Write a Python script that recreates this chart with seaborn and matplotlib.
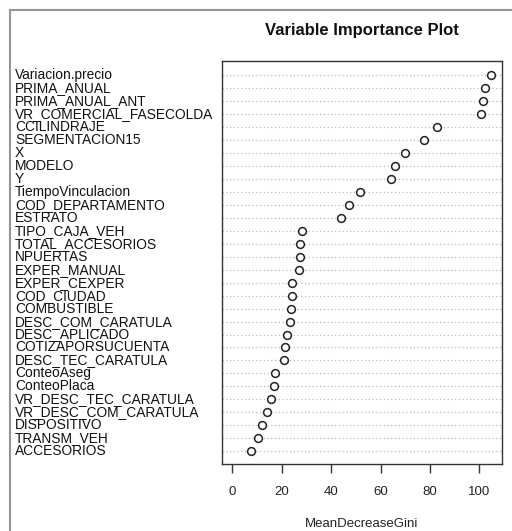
import matplotlib
matplotlib.use("Agg")
import matplotlib.pyplot as plt
import matplotlib.transforms as mtransforms
from matplotlib.patches import Rectangle
import seaborn as sns
import pandas as pd

variables = [
    "Variacion.precio", "PRIMA_ANUAL", "PRIMA_ANUAL_ANT", "VR_COMERCIAL_FASECOLDA",
    "CCILINDRAJE", "SEGMENTACION15", "X", "MODELO", "Y", "TiempoVinculacion",
    "COD_DEPARTAMENTO", "ESTRATO", "TIPO_CAJA_VEH", "TOTAL_ACCESORIOS", "NPUERTAS",
    "EXPER_MANUAL", "EXPER_CEXPER", "COD_CIUDAD", "COMBUSTIBLE", "DESC_COM_CARATULA",
    "DESC_APLICADO", "COTIZAPORSUCUENTA", "DESC_TEC_CARATULA", "ConteoAseg",
    "ConteoPlaca", "VR_DESC_TEC_CARATULA", "VR_DESC_COM_CARATULA", "DISPOSITIVO",
    "TRANSM_VEH", "ACCESORIOS",
]
mean_decrease_gini = [
    104.7, 102.3, 101.5, 100.8, 83.0, 77.7, 70.0, 66.0, 64.4, 51.8,
    47.1, 43.9, 28.1, 27.4, 27.2, 27.0, 24.3, 24.3, 23.9, 23.2,
    22.1, 21.2, 20.9, 17.4, 16.9, 15.8, 13.9, 12.1, 10.5, 7.6,
]
x_ticks = [0, 20, 40, 60, 80, 100]
title = "Variable Importance Plot"
x_label = "MeanDecreaseGini"

df = pd.DataFrame({"variable": variables, "gini": mean_decrease_gini})

sns.set_style("white")
plt.rcParams["font.family"] = ["Liberation Sans", "DejaVu Sans"]

W, H = 512, 531
fig = plt.figure(figsize=(W / 100, H / 100), dpi=100)
ax = fig.add_axes([222 / W, 1 - 464 / H, 280 / W, 403 / H])

sns.stripplot(data=df, x="gini", y="variable", order=variables, jitter=False,
              color="white", edgecolor="#222222", linewidth=1.1, size=5.6,
              marker="o", ax=ax, zorder=3)

n = len(variables)
ax.set_ylim(n - 1 + 0.98, -1.08)
ax.set_xlim(-0.04 * 105, 105 * 1.04)

ax.set_yticks(range(n))
ax.yaxis.grid(True, linestyle=(0, (1, 2)), color="#b8b8b8", linewidth=0.9)
ax.xaxis.grid(False)
ax.set_yticklabels([])
ax.tick_params(axis="y", length=0)

ax.set_xticks(x_ticks)
ax.set_xticklabels([str(t) for t in x_ticks])
ax.tick_params(axis="x", direction="out", length=6.5, width=1, color="#333333",
               pad=9, labelsize=9.5, labelcolor="#222222", bottom=True)

for s in ax.spines.values():
    s.set_visible(True)
    s.set_color("#333333")
    s.set_linewidth(1.0)

ax.set_xlabel(x_label, fontsize=9.5, color="#222222", labelpad=14.5)
ax.set_ylabel("")

trans = mtransforms.blended_transform_factory(fig.transFigure, ax.transData)
for i, name in enumerate(variables):
    ax.text(15 / W, i, name, transform=trans, ha="left", va="center",
            fontsize=9.9, color="#111111", clip_on=False)

fig.text(362 / W, 1 - 30 / H, title, ha="center", va="center",
         fontsize=12, fontweight="bold", color="#111111")

fig.patches.append(Rectangle((10 / W, -0.2), 1.2, 1.2 - 10 / H + 0.0, transform=fig.transFigure,
                             fill=False, edgecolor="#959595", linewidth=1.5))

fig.savefig("out.png", dpi=100)
